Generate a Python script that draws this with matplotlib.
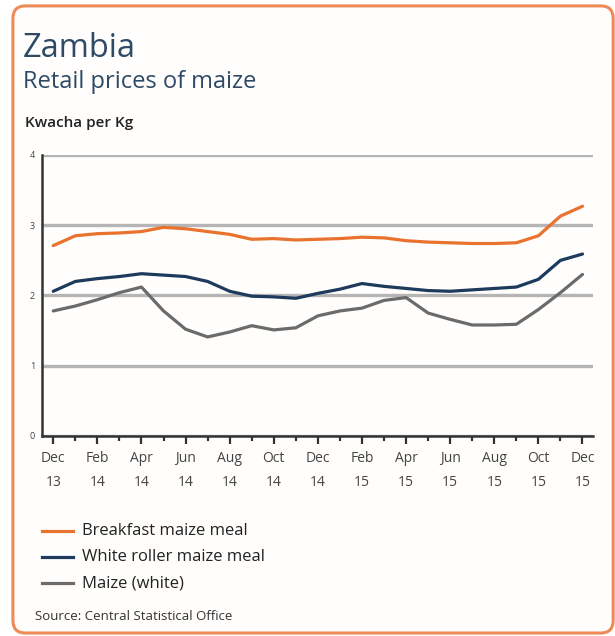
import numpy as np
import matplotlib.pyplot as plt
from matplotlib.patches import FancyBboxPatch
from matplotlib.ticker import MultipleLocator

plt.rcParams['font.family'] = ['Open Sans', 'DejaVu Sans']

# monthly values, Dec 2013 .. Dec 2015
breakfast = [2.71, 2.85, 2.88, 2.89, 2.91, 2.97, 2.95, 2.91, 2.87, 2.80, 2.81, 2.79,
             2.80, 2.81, 2.83, 2.82, 2.78, 2.76, 2.75, 2.74, 2.74, 2.75, 2.85, 3.13, 3.27]
roller = [2.06, 2.20, 2.24, 2.27, 2.31, 2.29, 2.27, 2.20, 2.06, 1.99, 1.98, 1.96,
          2.03, 2.09, 2.17, 2.13, 2.10, 2.07, 2.06, 2.08, 2.10, 2.12, 2.23, 2.50, 2.59]
maize = [1.78, 1.85, 1.94, 2.04, 2.12, 1.78, 1.52, 1.41, 1.48, 1.57, 1.51, 1.54,
         1.71, 1.78, 1.82, 1.93, 1.97, 1.75, 1.66, 1.58, 1.58, 1.59, 1.80, 2.04, 2.30]
tick_labels = ['Dec\n13', 'Feb\n14', 'Apr\n14', 'Jun\n14', 'Aug\n14', 'Oct\n14', 'Dec\n14',
               'Feb\n15', 'Apr\n15', 'Jun\n15', 'Aug\n15', 'Oct\n15', 'Dec\n15']
series_names = ['Breakfast maize meal', 'White roller maize meal', 'Maize (white)']

orange = '#E8722E'
navy = '#1E3A5C'
grey = '#6B6B6B'
title_col = '#2E4A66'

fig = plt.figure(figsize=(6.15, 6.36), dpi=100)
fig.patch.set_facecolor('white')

# rounded orange frame
frame = FancyBboxPatch((0.021, 0.0047), 0.976, 0.986, boxstyle='round,pad=0,rounding_size=0.02',
                       transform=fig.transFigure, facecolor='#FFFEFC', edgecolor='#EE8A55',
                       linewidth=2.2, zorder=-5)
fig.patches.append(frame)

fig.text(0.037, 0.911, 'Zambia', fontsize=23.5, color=title_col, va='baseline')
fig.text(0.037, 0.8616, 'Retail prices of maize', fontsize=17, color=title_col, va='baseline')
fig.text(0.041, 0.801, 'Kwacha per Kg', fontsize=11, color='#222222', va='baseline',
         fontweight='semibold')

ax = fig.add_axes([0.0683, 0.3145, 0.8957, 0.4418])
x = np.arange(len(breakfast))
ax.plot(x, breakfast, color=orange, lw=2.3, solid_capstyle='round', zorder=3)
ax.plot(x, roller, color=navy, lw=2.3, solid_capstyle='round', zorder=3)
ax.plot(x, maize, color=grey, lw=2.3, solid_capstyle='round', zorder=3)

ax.set_xlim(-0.51, 24.47)
ax.set_ylim(0, 4)
ax.set_yticks([0, 1, 2, 3, 4])
ax.set_yticklabels(['0', '1', '2', '3', '4'], fontsize=6.5, color='#444444')
ax.tick_params(axis='y', length=0, pad=5)
ax.yaxis.grid(True, color='#B5B5B5', lw=2.4)
ax.set_axisbelow(True)

ax.set_xticks(np.arange(0, 25, 2))
ax.set_xticklabels(tick_labels, fontsize=10, color='#444444', linespacing=1.75)
ax.xaxis.set_minor_locator(MultipleLocator(1))
ax.tick_params(axis='x', which='major', length=6, width=1.6, color='#333333', direction='out', pad=5)
ax.tick_params(axis='x', which='minor', length=3.6, width=1.6, color='#333333', direction='out')

for s in ['top', 'right']:
    ax.spines[s].set_visible(False)
for s in ['left', 'bottom']:
    ax.spines[s].set_color('#333333')
    ax.spines[s].set_linewidth(1.8)
ax.set_facecolor('none')

# legend drawn manually below the chart
for i, (name, col) in enumerate(zip(series_names, [orange, navy, grey])):
    yy = 0.1656 - i * 0.0414
    fig.add_artist(plt.Line2D([0.068, 0.118], [yy, yy], color=col, lw=2.3,
                              transform=fig.transFigure))
    fig.text(0.134, yy, name, fontsize=12, color='#222222', va='center')

fig.text(0.057, 0.0304, 'Source: Central Statistical Office', fontsize=9.5, color='#333333',
         va='center')

fig.savefig('out.png', dpi=100, facecolor='white')
